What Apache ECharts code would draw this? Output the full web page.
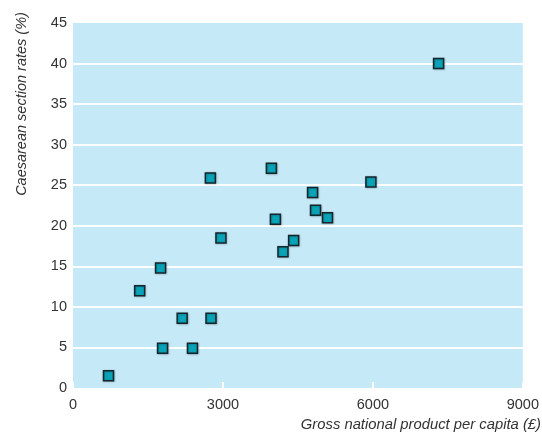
<!DOCTYPE html>
<html><head><meta charset="utf-8">
<script src="https://cdn.jsdelivr.net/npm/echarts@6/dist/echarts.min.js"></script>
<style>html,body{margin:0;padding:0;background:#fff;overflow:hidden}#c{width:542px;height:434px}</style>
</head><body><div id="c"></div>
<script>
var gnp = [710, 1334, 1752, 1792, 2184, 2390, 2761, 2748, 2960, 3969, 4049, 4201, 4414, 4793, 4852, 5091, 5960, 7314];
var csRate = [1.5, 12.0, 14.8, 4.9, 8.6, 4.9, 8.6, 25.9, 18.5, 27.1, 20.8, 16.8, 18.2, 24.1, 21.9, 21.0, 25.4, 40.0];
var xTicks = [0, 3000, 6000, 9000];
var yTicks = [0, 5, 10, 15, 20, 25, 30, 35, 40, 45];
var xTitle = 'Gross national product per capita (£)';
var yTitle = 'Caesarean section rates (%)';

var pts = gnp.map(function(v, i){ return [v, csRate[i]]; });
var font = '"Liberation Sans", Arial, sans-serif';
var chart = echarts.init(document.getElementById('c'));
chart.setOption({
  animation: false,
  grid: {left: 73, right: 14, top: 23, bottom: 46, show: true, backgroundColor: '#c6e9f8', borderWidth: 0},
  xAxis: {
    type: 'value', min: xTicks[0], max: xTicks[xTicks.length-1], interval: 3000,
    axisLine: {show: false},
    axisTick: {show: true, inside: true, length: 6, lineStyle: {color: '#ffffff', width: 2}},
    splitLine: {show: false},
    axisLabel: {color: '#333', fontSize: 14.5, fontFamily: font, margin: 9, formatter: function(v){ return String(v); }}
  },
  yAxis: {
    type: 'value', min: yTicks[0], max: yTicks[yTicks.length-1], interval: 5,
    axisLine: {show: false}, axisTick: {show: false},
    splitLine: {show: true, showMinLine: false, showMaxLine: false, lineStyle: {color: '#ffffff', width: 2}},
    axisLabel: {color: '#333', fontSize: 14.5, fontFamily: font, margin: 6}
  },
  graphic: [
    {type: 'text', right: 1, top: 417, style: {text: xTitle, fill: '#333', font: 'italic 14.8px ' + font}},
    {type: 'text', x: 22, y: 104, rotation: Math.PI/2, style: {text: yTitle, fill: '#333', font: 'italic 14.5px ' + font, textAlign: 'center', textVerticalAlign: 'middle'}}
  ],
  series: [{
    type: 'scatter', data: pts, symbol: 'rect', symbolSize: 10,
    itemStyle: {color: '#0aa3b8', borderColor: '#14262c', borderWidth: 1.5, opacity: 1,
      shadowColor: 'rgba(0,0,0,0.25)', shadowBlur: 2, shadowOffsetX: 0.5, shadowOffsetY: 0.5}
  }]
});
</script></body></html>
